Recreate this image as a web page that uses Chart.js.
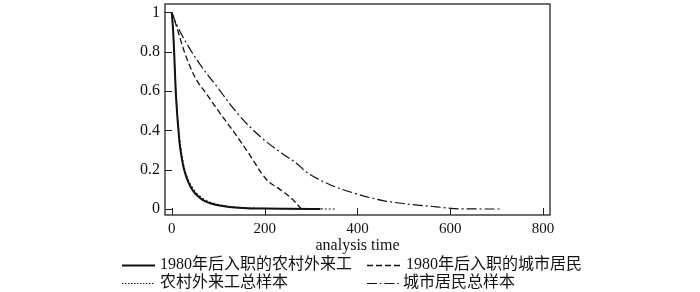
<!DOCTYPE html>
<html>
<head>
<meta charset="utf-8">
<script src="https://cdn.jsdelivr.net/npm/chart.js@4/dist/chart.umd.min.js"></script>
<style>
  html, body { margin: 0; padding: 0; background: #fff; }
  #wrap { width: 700px; height: 292px; position: relative; }
</style>
</head>
<body>
<div id="wrap"><canvas id="c" width="700" height="292"></canvas></div>
<script>
// ---- data ----
const xTicks = [0, 200, 400, 600, 800];
const yTicks = [0, 0.2, 0.4, 0.6, 0.8, 1];

const seriesLabels = ['1980年后入职的农村外来工', '1980年后入职的城市居民', '农村外来工总样本', '城市居民总样本'];

const migrant80X = [0, 3, 5, 8, 11, 14, 17, 20, 24, 29, 35, 42, 50, 60, 71, 85, 100, 120, 142, 170, 200, 250, 320];
const migrant80Y = [1, 0.9, 0.8, 0.62, 0.5, 0.41, 0.33, 0.28, 0.225, 0.18, 0.14, 0.105, 0.08, 0.057, 0.04, 0.028, 0.019, 0.011, 0.006, 0.003, 0.002, 0.001, 0];

const urban80X = [0, 10, 27, 50, 75, 100, 125, 161, 204, 230, 250, 268, 279];
const urban80Y = [1, 0.93, 0.80, 0.67, 0.585, 0.50, 0.42, 0.30, 0.15, 0.105, 0.07, 0.03, 0];

const migrantAllX = [0, 4, 7, 10, 13, 17, 22, 28, 35, 44, 55, 68, 85, 105, 130, 160, 200, 260, 320, 351];
const migrantAllY = [1, 0.86, 0.7, 0.56, 0.45, 0.36, 0.27, 0.2, 0.15, 0.11, 0.077, 0.052, 0.032, 0.02, 0.011, 0.006, 0.003, 0.001, 0.0005, 0];

const urbanAllX = [0, 10, 56, 99, 142, 185, 236, 269, 290, 340, 398, 455, 506, 570, 621, 707];
const urbanAllY = [1, 0.94, 0.752, 0.617, 0.485, 0.38, 0.285, 0.232, 0.188, 0.125, 0.077, 0.043, 0.026, 0.011, 0.001, 0];

const pts = (xs, ys) => xs.map((x, i) => ({ x: x, y: ys[i] }));

const SERIF = '"Liberation Serif", "Noto Sans CJK SC", serif';
const INK = '#111';

// inward ticks + full frame
const framePlugin = {
  id: 'frame',
  afterDraw(chart) {
    const { ctx, chartArea: a, scales } = chart;
    ctx.save();
    ctx.strokeStyle = '#222';
    ctx.lineWidth = 1.3;
    ctx.setLineDash([]);
    ctx.strokeRect(a.left, a.top, a.right - a.left, a.bottom - a.top);
    ctx.lineWidth = 1;
    ctx.beginPath();
    xTicks.forEach(v => {
      const px = Math.round(scales.x.getPixelForValue(v)) + 0.5;
      ctx.moveTo(px, a.bottom);
      ctx.lineTo(px, a.bottom - 7);
    });
    yTicks.forEach(v => {
      const py = Math.round(scales.y.getPixelForValue(v)) + 0.5;
      ctx.moveTo(a.left, py);
      ctx.lineTo(a.left + 7, py);
    });
    ctx.stroke();
    ctx.restore();
  }
};

// two-column legend under the axis title
const legendPlugin = {
  id: 'gridLegend',
  afterDraw(chart) {
    const { ctx } = chart;
    const slots = [
      { ds: 0, x1: 122, x2: 155, tx: 160, y: 265 },
      { ds: 1, x1: 367, x2: 403, tx: 406, y: 265 },
      { ds: 2, x1: 122, x2: 155, tx: 160, y: 283 },
      { ds: 3, x1: 367, x2: 400, tx: 403, y: 283 }
    ];
    ctx.save();
    slots.forEach(s => {
      const d = chart.data.datasets[s.ds];
      ctx.strokeStyle = INK;
      ctx.lineWidth = d.borderWidth;
      ctx.setLineDash(d.legendDash || d.borderDash || []);
      ctx.beginPath();
      ctx.moveTo(s.x1, s.y + 0.5);
      ctx.lineTo(s.x2, s.y + 0.5);
      ctx.stroke();
      ctx.setLineDash([]);
      ctx.fillStyle = INK;
      ctx.font = '16px ' + SERIF;
      ctx.textBaseline = 'middle';
      ctx.textAlign = 'left';
      ctx.fillText(d.label, s.tx, s.y);
    });
    ctx.restore();
  }
};

new Chart(document.getElementById('c'), {
  type: 'line',
  data: {
    datasets: [
      { label: seriesLabels[0], data: pts(migrant80X, migrant80Y), borderColor: INK, borderWidth: 2, borderDash: [], order: 1 },
      { label: seriesLabels[1], data: pts(urban80X, urban80Y), borderColor: INK, borderWidth: 1.3, borderDash: [6, 3], legendDash: [6, 3], order: 2 },
      { label: seriesLabels[2], data: pts(migrantAllX, migrantAllY), borderColor: INK, borderWidth: 1.1, borderDash: [2, 2], legendDash: [1.5, 1.5], order: 4 },
      { label: seriesLabels[3], data: pts(urbanAllX, urbanAllY), borderColor: INK, borderWidth: 1.2, borderDash: [10, 3, 2, 3], legendDash: [10, 3, 1.5, 3], order: 3 }
    ]
  },
  options: {
    responsive: false,
    animation: false,
    devicePixelRatio: 1,
    layout: { padding: { left: 0, right: 150, top: 4, bottom: 37 } },
    elements: {
      point: { radius: 0 },
      line: { cubicInterpolationMode: 'monotone', fill: false }
    },
    plugins: {
      legend: { display: false },
      tooltip: { enabled: false }
    },
    scales: {
      x: {
        type: 'linear',
        min: -14.7,
        max: 815,
        afterBuildTicks: s => { s.ticks = xTicks.map(v => ({ value: v })); },
        afterFit: s => { s.height = 40; s.paddingLeft = 0; s.paddingRight = 0; },
        grid: { display: false, drawTicks: false },
        border: { display: false },
        ticks: { color: INK, padding: 5, maxRotation: 0, font: { family: SERIF, size: 15 }, callback: v => String(Math.round(v)) },
        title: { display: true, text: 'analysis time', color: INK, padding: 0, font: { family: SERIF, size: 16 } }
      },
      y: {
        type: 'linear',
        min: -0.0305,
        max: 1.043,
        afterBuildTicks: s => { s.ticks = yTicks.map(v => ({ value: v })); },
        afterFit: s => { s.width = 165; s.paddingTop = 0; s.paddingBottom = 0; },
        grid: { display: false, drawTicks: false },
        border: { display: false },
        ticks: { color: INK, padding: 5, font: { family: SERIF, size: 16 }, callback: v => String(Math.round(v * 10) / 10) }
      }
    }
  },
  plugins: [framePlugin, legendPlugin]
});
</script>
</body>
</html>
